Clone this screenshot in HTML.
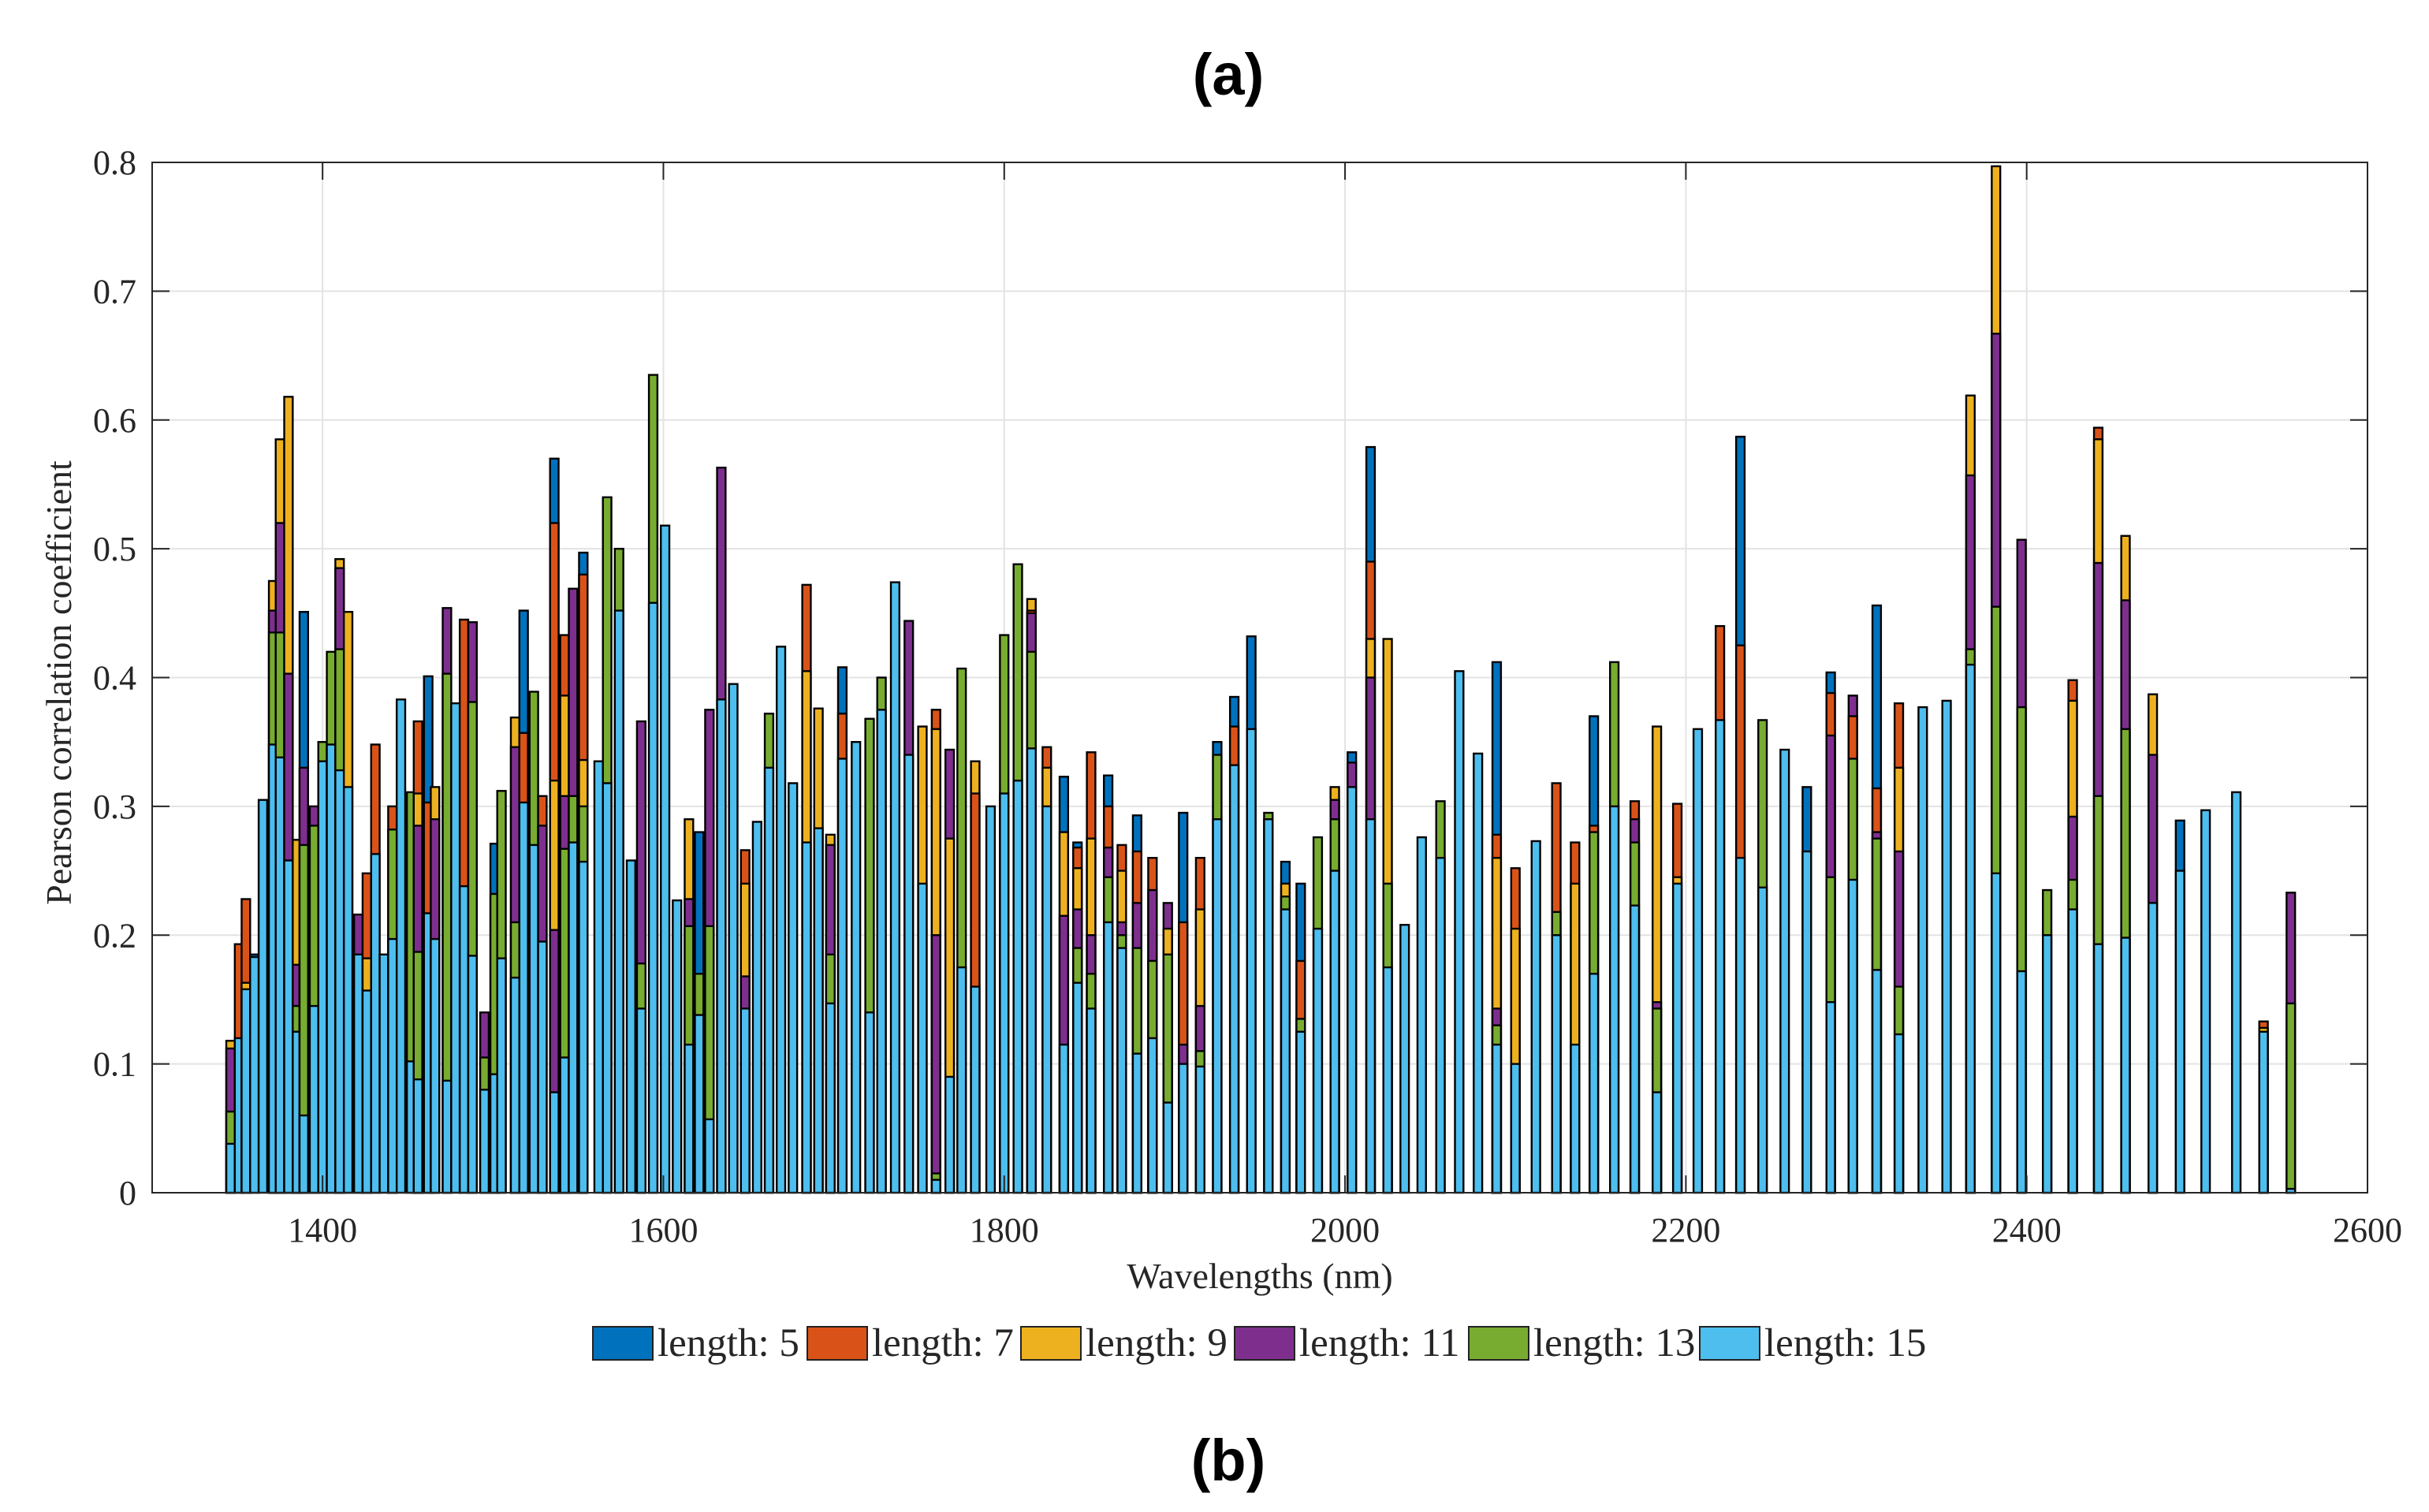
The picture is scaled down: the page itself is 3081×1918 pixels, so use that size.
<!DOCTYPE html>
<html><head><meta charset="utf-8"><style>
html,body{margin:0;padding:0;background:#fff;}
svg{display:block;}
text{font-family:"Liberation Serif",serif;fill:#262626;}
</style></head><body>
<svg id="chart" width="3081" height="1918" viewBox="0 0 3081 1918" xmlns="http://www.w3.org/2000/svg">
<text x="1558" y="120" text-anchor="middle" style="font-family:'Liberation Sans',sans-serif;font-weight:bold;font-size:74px;fill:#000">(a)</text>
<text x="1558" y="1878" text-anchor="middle" style="font-family:'Liberation Sans',sans-serif;font-weight:bold;font-size:74px;fill:#000">(b)</text>
<g id="grid"></g>
<g id="bars"></g>
<g id="axes"></g>
<text x="1598" y="1634" text-anchor="middle" font-size="46">Wavelengths (nm)</text>
<text transform="translate(90,866) rotate(-90)" text-anchor="middle" font-size="46">Pearson correlation coefficient</text>
<g id="legend"></g>
</svg>
<script>
const wavelengths=[1346,1351,1355,1360,1365,1371,1375,1380,1385,1389,
1395,1400,1405,1410,1415,1421,1426,1431,1436,1441,
1446,1452,1456,1462,1466,1473,1478,1483,1488,1495,
1501,1505,1513,1518,1524,1529,1536,1542,1547,1553,
1562,1567,1574,1581,1587,1594,1601,1608,1615,1621,
1627,1634,1641,1648,1655,1662,1669,1676,1684,1691,
1698,1705,1713,1721,1728,1736,1744,1752,1760,1768,
1775,1783,1792,1800,1808,1816,1825,1835,1843,1851,
1861,1869,1878,1887,1896,1905,1915,1925,1935,1945,
1955,1965,1974,1984,1994,2004,2015,2025,2035,2045,
2056,2067,2078,2089,2100,2112,2124,2135,2146,2158,
2170,2183,2195,2207,2220,2232,2245,2258,2271,2285,
2298,2312,2325,2339,2353,2367,2382,2397,2412,2427,
2442,2458,2474,2490,2505,2523,2539,2555];
const len5=[0,0,0,.185,0,0,0,0,0,.451,
0,0,0,0,0,0,0,0,0,0,
0,0,0,.401,0,0,0,0,0,0,
.271,0,0,.452,0,0,.57,0,0,.497,
0,0,0,0,0,0,0,0,0,.28,
0,0,0,0,0,0,0,0,0,0,
0,.408,0,0,0,0,0,0,0,0,
0,0,0,0,0,0,0,.323,.272,0,
.324,0,.293,0,0,.295,0,.35,.385,.432,
0,.257,.24,0,0,.342,.579,0,0,0,
0,0,0,.412,0,0,0,0,.37,0,
0,0,0,0,0,.587,0,0,.315,.404,
0,.456,0,0,0,0,0,0,0,0,
0,0,0,.289,0,0,0,0];
const len7=[0,.193,.228,0,0,0,0,0,0,0,
0,0,0,0,0,0,.248,.348,0,.30,
0,0,.366,.303,0,0,0,.445,0,0,
0,0,0,.357,0,.308,.52,.433,0,.48,
0,0,0,0,0,0,0,0,0,0,
0,0,0,.266,0,0,0,0,.472,0,
0,.372,0,0,0,0,0,0,.375,0,
0,.31,0,0,0,.452,.346,0,.268,.342,
.3,.27,.265,.26,0,.21,.26,0,.362,0,
0,0,.18,0,0,0,.49,0,0,0,
0,0,0,.278,.252,0,.318,.272,.285,0,
.304,0,.302,0,.44,.425,0,0,0,.388,
.37,.314,.38,0,0,0,0,0,0,.398,
.594,0,0,0,0,0,.133,0];
const len9=[.118,0,.163,0,0,.475,.585,.618,.274,0,
0,0,0,.492,.451,0,.182,0,0,0,
0,0,.31,0,.315,0,0,0,0,0,
0,0,.369,0,0,0,.32,.386,0,.336,
0,0,0,0,0,0,0,0,.29,0,
0,0,0,.24,0,0,0,0,.405,.376,
.278,0,0,0,0,0,0,.362,.36,.275,
0,.335,0,0,0,.461,.33,.28,.252,.275,
0,.25,0,0,.205,0,.22,0,0,0,
0,.24,0,0,.315,0,.43,.43,0,0,
0,0,0,.26,.205,0,0,.24,0,0,
0,.362,.245,0,0,0,0,0,0,0,
0,0,.33,0,0,.619,.797,0,0,.382,
.585,.51,.387,0,0,0,.128,0];
const len11=[.112,0,0,0,0,.452,.52,.403,.177,.33,
.30,0,0,.485,0,.216,0,0,0,0,
0,0,.285,0,.29,.454,0,0,.443,.14,
0,0,.346,0,0,.285,.204,.308,.469,0,
0,0,0,0,.366,0,0,0,.228,0,
.375,.563,0,.168,0,0,0,0,0,0,
.27,0,0,0,0,0,.444,0,.2,.344,
0,0,0,0,0,.45,0,.215,.22,.2,
.268,.21,.225,.235,.225,.115,.145,0,0,0,
0,0,0,0,.305,.334,.4,0,0,0,
0,0,0,.143,0,0,0,0,0,0,
.29,.148,0,0,0,0,0,0,0,.355,
.386,.28,.265,0,0,.557,.667,.507,0,.292,
.489,.46,.34,0,0,0,0,.233];
const len13=[.063,0,0,0,0,.435,.435,0,.145,.27,
.285,.35,.42,.422,0,0,0,0,0,.282,
0,.311,.187,0,0,.403,0,0,.381,.105,
.232,.312,.21,0,.389,0,0,.267,.308,.30,
0,.54,.50,0,.178,.635,0,0,.207,.17,
.207,0,0,0,0,.372,0,0,0,0,
.185,0,0,.368,.40,0,0,0,.015,0,
.407,0,0,.433,.488,.42,0,0,.19,.17,
.245,.2,.19,.18,.185,0,.11,.34,0,0,
.295,.23,.135,.276,.29,0,0,.24,0,0,
.304,0,0,.13,0,0,.218,0,.28,.412,
.272,.143,0,0,0,0,.367,0,0,.245,
.337,.275,.16,0,0,.422,.455,.377,.235,.243,
.308,.36,0,0,0,0,0,.147];
const len15=[.038,.12,.158,.183,.305,.348,.338,.258,.125,.06,
.145,.335,.348,.328,.315,.185,.157,.263,.185,.197,
.383,.102,.088,.217,.197,.087,.38,.238,.184,.08,
.092,.182,.167,.303,.27,.195,.078,.105,.272,.257,
.335,.318,.452,.258,.143,.458,.518,.227,.115,.138,
.057,.383,.395,.143,.288,.33,.424,.318,.272,.283,
.147,.337,.35,.14,.375,.474,.34,.24,.01,.09,
.175,.16,.3,.31,.32,.345,.3,.115,.163,.143,
.21,.19,.108,.12,.07,.1,.098,.29,.332,.36,
.29,.22,.125,.205,.25,.315,.29,.175,.208,.276,
.26,.405,.341,.115,.1,.273,.2,.115,.17,.3,
.223,.078,.24,.36,.367,.26,.237,.344,.265,.148,
.243,.173,.123,.377,.382,.41,.248,.172,.2,.22,
.193,.198,.225,.25,.297,.311,.125,.003];
const seriesLabels=["length: 5","length: 7","length: 9","length: 11","length: 13","length: 15"];
const xTicks=[1400,1600,1800,2000,2200,2400,2600];
const yTicks=[0,0.1,0.2,0.3,0.4,0.5,0.6,0.7,0.8];

const NS="http://www.w3.org/2000/svg";
const colors=["#0072BD","#D95319","#EDB120","#7E2F8E","#77AC30","#4DBEEE"];
const series=[len5,len7,len9,len11,len13,len15];
const L=193,R=3003,T=206,B=1513,xMin=1300,xMax=2600,yMax=0.8;
function xs(v){return L+(v-xMin)/(xMax-xMin)*(R-L);}
function ys(v){return B-v/yMax*(B-T);}
function mk(tag,attrs,parent){const e=document.createElementNS(NS,tag);for(const k in attrs)e.setAttribute(k,attrs[k]);parent.appendChild(e);return e;}
const grid=document.getElementById('grid'),bars=document.getElementById('bars'),axes=document.getElementById('axes'),legend=document.getElementById('legend');
xTicks.forEach(t=>{
  const g=mk('line',{x1:xs(t),x2:xs(t),y1:T,y2:B,stroke:'#e3e3e3','stroke-width':2},grid);
  
  
});
yTicks.forEach(t=>{
  const g=mk('line',{x1:L,x2:R,y1:ys(t),y2:ys(t),stroke:'#e3e3e3','stroke-width':2},grid);
  
  
});
const bw=xs(5)-xs(0);
wavelengths.forEach((w,i)=>{
  const items=series.map((s,k)=>({v:s[i],k:k})).filter(o=>o.v>0).sort((a,b)=>b.v-a.v);
  const g=mk('g',{},bars);
  
  
  items.forEach(o=>{
    const r=mk('rect',{x:xs(w)-bw/2,y:ys(o.v),width:bw,height:ys(0)-ys(o.v),fill:colors[o.k],stroke:'#000','stroke-width':2.4},g);
    
    
  });
});
const box=mk('rect',{x:L,y:T,width:R-L,height:B-T,fill:'none',stroke:'#262626','stroke-width':2},axes);


xTicks.forEach(t=>{
  mk('line',{x1:xs(t),x2:xs(t),y1:B,y2:B-22,stroke:'#262626','stroke-width':2},axes);
  mk('line',{x1:xs(t),x2:xs(t),y1:T,y2:T+22,stroke:'#262626','stroke-width':2},axes);
  const tx=mk('text',{x:xs(t),y:B+62,'text-anchor':'middle','font-size':44},axes);
  tx.textContent=t;
  
  
});
yTicks.forEach(t=>{
  mk('line',{x1:L,x2:L+22,y1:ys(t),y2:ys(t),stroke:'#262626','stroke-width':2},axes);
  mk('line',{x1:R,x2:R-22,y1:ys(t),y2:ys(t),stroke:'#262626','stroke-width':2},axes);
  const tx=mk('text',{x:L-20,y:ys(t)+15,'text-anchor':'end','font-size':44},axes);
  tx.textContent=t===0?'0':t.toFixed(1);
  
  
});
const legX=[752,1024,1295,1566,1863,2156];
seriesLabels.forEach((lab,k)=>{
  const g=mk('g',{},legend);
  
  
  mk('rect',{x:legX[k],y:1683,width:76,height:42,fill:colors[k],stroke:'#222','stroke-width':2},g);
  const tx=mk('text',{x:legX[k]+82,y:1720,'font-size':51},g);
  tx.textContent=lab;
  
  
});
</script>
</body></html>
